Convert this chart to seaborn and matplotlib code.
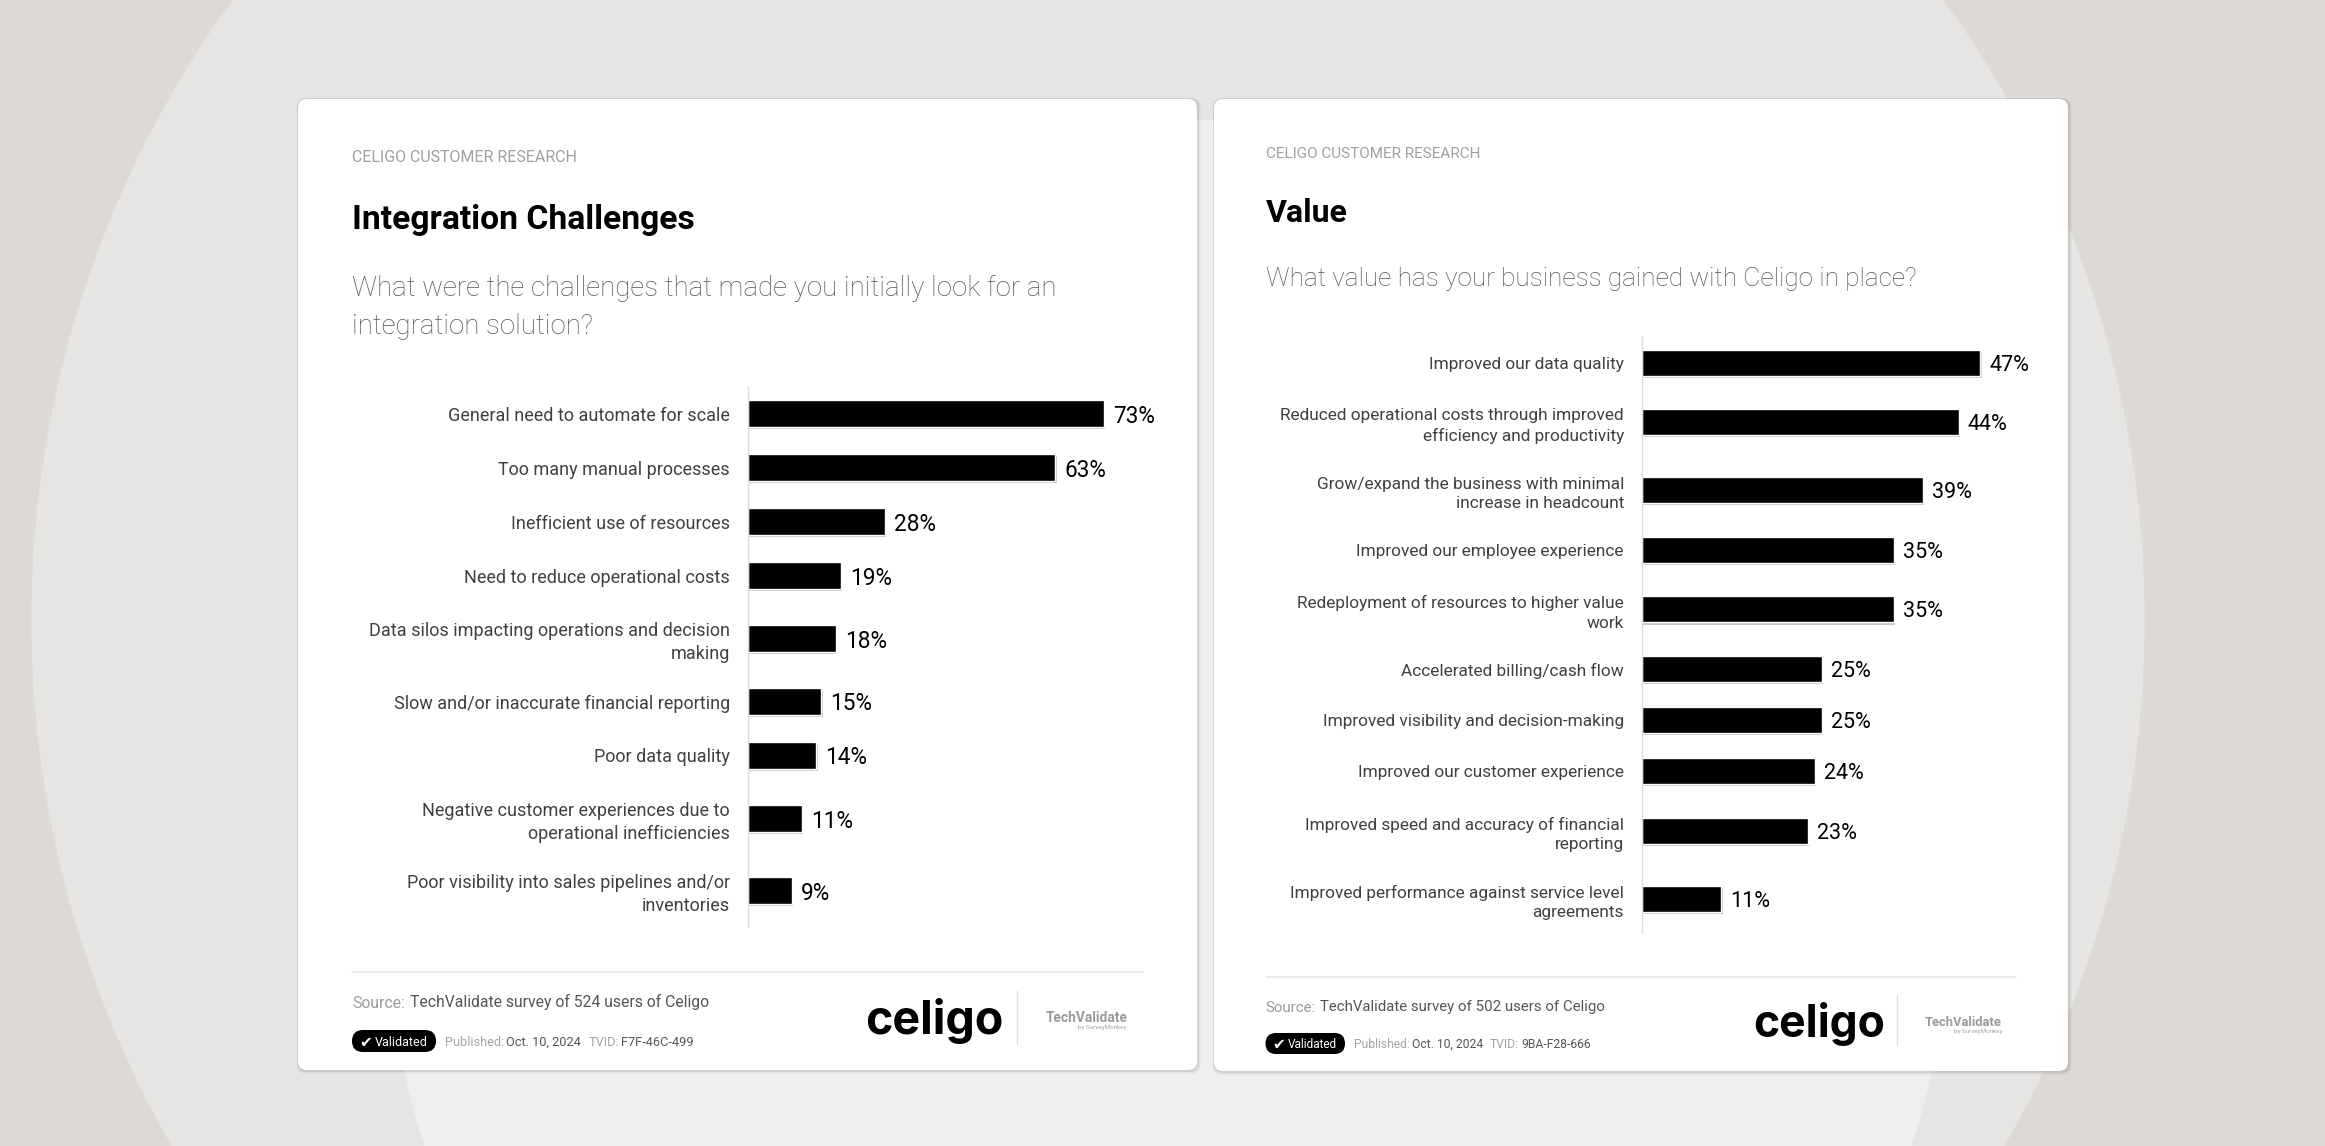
import matplotlib
matplotlib.use("Agg")
import matplotlib.pyplot as plt
import matplotlib.patheffects as pe
from matplotlib.patches import Circle, FancyBboxPatch
import numpy as np
import seaborn as sns

# ----------------------------
# Data
# ----------------------------
challenge_labels = [
    "General need to automate for scale",
    "Too many manual processes",
    "Inefficient use of resources",
    "Need to reduce operational costs",
    "Data silos impacting operations and decision\nmaking",
    "Slow and/or inaccurate financial reporting",
    "Poor data quality",
    "Negative customer experiences due to\noperational inefficiencies",
    "Poor visibility into sales pipelines and/or\ninventories",
]
challenge_values = [73, 63, 28, 19, 18, 15, 14, 11, 9]

value_labels = [
    "Improved our data quality",
    "Reduced operational costs through improved\nefficiency and productivity",
    "Grow/expand the business with minimal\nincrease in headcount",
    "Improved our employee experience",
    "Redeployment of resources to higher value\nwork",
    "Accelerated billing/cash flow",
    "Improved visibility and decision-making",
    "Improved our customer experience",
    "Improved speed and accuracy of financial\nreporting",
    "Improved performance against service level\nagreements",
]
value_values = [47, 44, 39, 35, 35, 25, 25, 24, 23, 11]

W, H = 2325, 1146

sns.set_theme(style="white")
plt.rcParams["font.family"] = ["Roboto", "DejaVu Sans"]

fig = plt.figure(figsize=(W / 100, H / 100), dpi=100)

# page layer in pixel coordinates, for the background, cards and texts
page = fig.add_axes([0, 0, 1, 1])
page.set_xlim(0, W)
page.set_ylim(H, 0)
page.axis("off")
page.add_patch(plt.Rectangle((0, 0), W, H, color="#dddad5", zorder=0))
page.add_patch(Circle((1088, 620), 1056, color="#e6e5e3", zorder=1))
page.add_patch(Circle((1168, 902), 782, color="#f0efed", zorder=2))


def card(x0, y0, x1, y1):
    # soft shadow, mostly on the right and bottom edges
    for grow, alpha in [(3.5, 0.05), (2, 0.08)]:
        page.add_patch(FancyBboxPatch(
            (x0 - grow * 0.3, y0 - grow * 0.3), x1 - x0 + grow * 1.3, y1 - y0 + grow * 1.3,
            boxstyle="round,pad=0,rounding_size=9", fc="black", ec="none", alpha=alpha, zorder=3))
    page.add_patch(FancyBboxPatch(
        (x0, y0), x1 - x0, y1 - y0,
        boxstyle="round,pad=0,rounding_size=9", fc="white", ec="none", zorder=4))


def put(x, y, s, size, color, weight="normal", ha="left", va="center_baseline", **kw):
    return page.text(x, y, s, fontsize=size, color=color, fontweight=weight,
                     ha=ha, va=va, zorder=6, **kw)


def bar_panel(labels, values, x0, y0, width, height, xmax, label_size, value_size, bar_w):
    # band height follows the number of lines in the label
    bands = np.array([4 / 3 if "\n" in s else 1.0 for s in labels])
    pos = np.cumsum(bands) - bands / 2
    ax = fig.add_axes([x0 / W, 1 - (y0 + height) / H, width / W, height / H])
    ax.patch.set_alpha(0)
    sns.barplot(x=values, y=pos, orient="h", native_scale=True, color="black",
                saturation=1, width=bar_w, ax=ax)
    ax.set_xlim(0, xmax)
    ax.set_ylim(bands.sum(), 0)
    ax.set_yticks(pos, labels)
    ax.set_xticks([])
    ax.set_xlabel("")
    ax.set_ylabel("")
    ax.tick_params(axis="y", length=0, pad=13, labelsize=label_size, labelcolor="#404040")
    for t in ax.get_yticklabels():
        t.set_linespacing(1.35)
        t.set_verticalalignment("center_baseline")
    sns.despine(ax=ax, left=False, bottom=True)
    ax.spines["left"].set_color("#dcdcdc")
    ax.spines["left"].set_linewidth(1.0)
    for p in ax.containers[0]:
        p.set_path_effects([pe.SimplePatchShadow(offset=(1, -1.5), shadow_rgbFace="#000000", alpha=0.22),
                            pe.Normal()])
    notes = ax.bar_label(ax.containers[0], labels=[f"{v}%" for v in values], padding=6.5,
                         fontsize=value_size, color="black")
    for n in notes:
        n.set_verticalalignment("center_baseline")
    return ax


def footer(xl, xr, div_y, src_y, src_x, survey, pill, pub_y, xs, stamp, logo, vline, tv,
           src_size, small_size, pill_size, pill_dx, logo_size, tv_size):
    page.plot([xl, xr], [div_y, div_y], color="#e6e6e6", lw=1.2, zorder=5)
    # footer lines share one baseline
    put(xl, src_y + 5.5, "Source:", src_size, "#9a9a9a", va="baseline")
    put(src_x, src_y + 5.5, survey, src_size, "#555555", va="baseline")
    px0, px1, py0, py1 = pill
    page.add_patch(FancyBboxPatch((px0, py0), px1 - px0, py1 - py0,
                                  boxstyle=f"round,pad=0,rounding_size={(py1 - py0) / 2}",
                                  fc="black", ec="none", zorder=5))
    put(px0 + 7, (py0 + py1) / 2, "\u2714", 11, "white", family="DejaVu Sans")
    put(px0 + pill_dx, (py0 + py1) / 2, "Validated", pill_size, "white")
    put(xs[0], pub_y + 4.5, "Published:", small_size, "#a5a5a5", va="baseline")
    put(xs[1], pub_y + 4.5, "Oct. 10, 2024", small_size, "#555555", va="baseline")
    put(xs[2], pub_y + 4.5, "TVID:", small_size, "#a5a5a5", va="baseline")
    put(xs[3], pub_y + 4.5, stamp, small_size, "#555555", va="baseline")
    put(logo[0], logo[1], "celigo", logo_size, "black", weight="bold", va="baseline", family="Inter")
    page.plot([vline[0], vline[0]], [vline[1], vline[2]], color="#e0e0e0", lw=1, zorder=5)
    put(tv[0], tv[2], "TechValidate", tv_size, "#9a9a9a", weight="bold")
    put(tv[1], tv[2] + 10, "by SurveyMonkey", 4.5, "#a5a5a5", ha="right")


# ----------------------------
# Left card
# ----------------------------
card(298, 99, 1197, 1070)
put(352, 156, "CELIGO CUSTOMER RESEARCH", 11.5, "#a0a0a0")
put(352, 229, "Integration Challenges", 24.2, "black", weight="bold", va="baseline")
put(352, 296, "What were the challenges that made you initially look for an", 19.9, "#555555",
    weight="light", va="baseline")
put(352, 334, "integration solution?", 19.9, "#555555", weight="light", va="baseline")
bar_panel(challenge_labels, challenge_values, 748, 386.5, 390, 540, 80, 12.95, 16.3, 0.5)
footer(352, 1143, 972, 1002, 409.5, "TechValidate survey of 524 users of Celigo",
       (352, 436, 1030, 1052), 1041.5, (445, 506, 589, 621), "F7F-46C-499",
       (865, 1034), (1017, 991, 1044), (1046, 1126.5, 1017),
       11.3, 9.2, 9.0, 23, 33.5, 9.9)

# ----------------------------
# Right card
# ----------------------------
card(1214, 99, 2068, 1071)
put(1265.5, 153, "CELIGO CUSTOMER RESEARCH", 11, "#a0a0a0")
put(1265.5, 222, "Value", 23, "black", weight="bold", va="baseline")
put(1265.5, 286, "What value has your business gained with Celigo in place?", 18.85, "#555555",
    weight="light", va="baseline")
bar_panel(value_labels, value_values, 1642, 337, 374.4, 596, 52, 12.4, 15.5, 0.51)
footer(1265.5, 2016, 977, 1006, 1320, "TechValidate survey of 502 users of Celigo",
       (1265.5, 1345, 1033, 1054), 1043, (1354, 1412, 1490, 1521.5), "9BA-F28-666",
       (1753, 1037), (1897, 995, 1046), (1925, 2002, 1021),
       10.8, 8.7, 8.5, 22.3, 32, 9.4)

fig.savefig("out.png", dpi=100)
